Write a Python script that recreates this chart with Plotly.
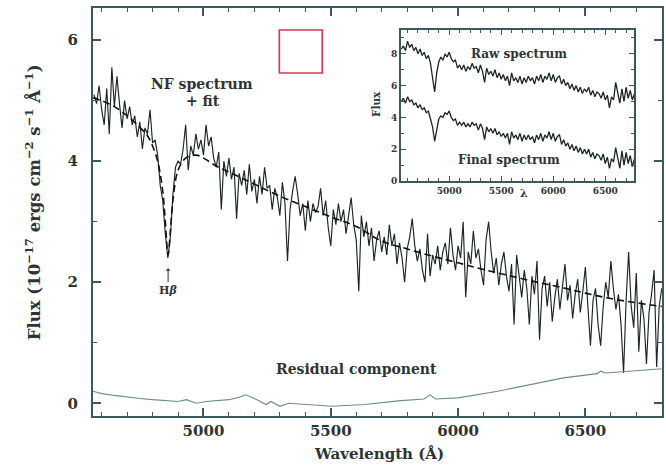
import plotly.graph_objects as go

# ---------------- data ----------------
# main NF spectrum, sampled every 10 A from 4570 A
wl_start, wl_step = 4570, 10
flux = [
    5.10, 4.95, 5.25, 4.85, 4.60, 5.20, 4.45, 5.55, 4.90, 5.40,
    4.95, 4.55, 5.00, 4.70, 4.90, 4.60, 4.75, 4.40, 4.65, 4.20,
    4.55, 4.45, 4.85, 4.30, 4.35, 4.10, 3.60, 3.35, 2.80, 2.40,
    2.75, 3.45, 3.90, 4.00, 3.95, 4.20, 4.60, 3.85, 4.25, 4.10,
    4.45, 4.20, 4.35, 4.10, 4.60, 4.25, 4.40, 4.05, 3.90, 4.15,
    3.20, 4.00, 3.75, 4.05, 3.70, 3.90, 3.05, 3.80, 3.60, 3.85,
    3.45, 3.95, 3.50, 3.70, 3.30, 3.75, 3.45, 3.90, 3.55, 3.60,
    3.20, 3.55, 3.40, 3.10, 3.65, 3.30, 2.35, 3.20, 3.50, 3.75,
    3.45, 3.10, 3.30, 2.85, 3.35, 3.00, 3.30, 3.15, 3.25, 3.55,
    3.10, 3.35, 2.90, 2.60, 3.20, 2.95, 3.30, 3.00, 3.20, 2.80,
    3.10, 3.40, 2.95, 2.70, 1.85, 3.10, 2.75, 3.00, 2.60, 2.90,
    2.35, 2.70, 2.85, 2.50, 2.75, 2.45, 2.95, 2.60, 2.80, 2.30,
    2.65, 2.40, 2.00, 2.55, 2.75, 3.05, 2.60, 2.35, 2.55, 2.20,
    2.00, 2.80, 2.10, 2.45, 2.30, 2.60, 2.20, 2.50, 2.65, 2.30,
    2.90, 2.45, 2.20, 2.60, 2.40, 3.00, 1.75, 2.50, 2.30, 2.85,
    2.40, 2.55, 2.20, 1.95, 2.70, 3.00, 2.50, 2.15, 2.40, 1.95,
    2.30, 2.50, 2.10, 1.85, 2.30, 1.30, 2.45, 2.05, 1.75, 2.20,
    1.90, 1.30, 2.10, 1.80, 2.35, 1.05, 1.90, 2.10, 1.60, 2.00,
    1.35, 1.75, 2.05, 1.55, 1.90, 2.30, 1.70, 1.95, 1.40, 1.80,
    2.05, 1.50, 1.85, 2.25, 1.60, 0.95, 1.70, 1.90, 1.30, 0.95,
    1.60, 2.00, 1.75, 2.35, 1.90, 1.55, 1.80, 1.30, 0.50, 1.70,
    2.50, 1.60, 1.25, 2.15, 0.85, 1.70, 1.40, 0.65, 1.50, 1.80,
    2.20, 0.60, 1.60, 1.90,
]
wl = [wl_start + i * wl_step for i in range(len(flux))]

# model fit (dashed)
fit_wl = [4566, 4600, 4650, 4700, 4750, 4780, 4800, 4820, 4840, 4850, 4861,
          4870, 4880, 4900, 4930, 4970, 5000, 5050, 5100, 5200, 5300, 5400,
          5500, 5600, 5700, 5800, 5900, 6000, 6100, 6200, 6300, 6400, 6500,
          6600, 6700, 6800]
fit_flux = [5.05, 5.00, 4.90, 4.75, 4.56, 4.42, 4.25, 4.00, 3.50, 3.00, 2.45,
            2.85, 3.35, 3.85, 4.05, 4.10, 4.05, 3.92, 3.82, 3.62, 3.42, 3.25,
            3.08, 2.92, 2.68, 2.55, 2.43, 2.32, 2.21, 2.11, 2.01, 1.92, 1.82,
            1.73, 1.66, 1.60]

# residual component
res_wl = [4566, 4600, 4650, 4700, 4750, 4800, 4855, 4900, 4933, 4972, 5010,
          5050, 5100, 5140, 5167, 5200, 5230, 5246, 5265, 5285, 5300, 5335,
          5400, 5450, 5503, 5633, 5765, 5866, 5890, 5912, 6000, 6156, 6285,
          6414, 6546, 6560, 6580, 6675, 6800]
res_flux = [0.20, 0.16, 0.13, 0.10, 0.08, 0.06, 0.04, 0.03, 0.06, 0.00, 0.03,
            0.04, 0.06, 0.10, 0.14, 0.08, 0.02, -0.02, 0.03, -0.01, -0.05, 0.00,
            -0.02, -0.03, -0.05, -0.02, 0.04, 0.07, 0.14, 0.07, 0.09, 0.20, 0.31,
            0.42, 0.49, 0.53, 0.50, 0.53, 0.57]

# inset spectra, sampled every 20 A from 4540 A
ins_start, ins_step = 4540, 20
raw_flux = [
    8.3, 8.5, 8.2, 8.8, 8.4, 8.6, 8.2, 8.4, 8.0, 8.3,
    7.9, 8.1, 7.7, 7.9, 7.4, 6.6, 5.6, 6.8, 7.5, 7.8,
    7.6, 8.0, 7.8, 8.1, 7.7, 7.5, 7.6, 7.1, 7.3, 7.0,
    7.3, 6.9, 7.2, 7.0, 7.4, 7.1, 7.2, 6.8, 7.3, 6.9,
    6.2, 7.1, 6.7, 6.9, 6.6, 7.0, 6.5, 6.8, 6.4, 6.7,
    6.3, 6.6, 6.0, 6.8, 6.3, 6.5, 6.2, 6.6, 6.1, 6.5,
    6.2, 6.6, 6.3, 6.5, 6.1, 6.6, 6.3, 6.7, 6.2, 6.6,
    6.4, 6.8, 6.3, 6.7, 6.2, 6.5, 6.6, 6.1, 6.4, 6.0,
    6.2, 5.8, 6.1, 5.7, 6.0, 5.6, 5.9, 5.5, 5.8, 5.6,
    5.9, 5.4, 5.7, 5.3, 5.6, 5.5, 5.2, 5.6, 5.1, 5.4,
    4.6, 5.3, 5.1, 6.2, 5.6, 4.9, 5.8, 5.0, 5.9, 5.2,
    5.7, 5.1, 5.5,
]
final_flux = [
    5.0, 5.2, 4.9, 5.3, 5.0, 5.1, 4.8, 4.9, 4.6, 4.8,
    4.5, 4.6, 4.3, 4.4, 3.9, 3.4, 2.5, 3.3, 3.9, 4.1,
    4.0, 4.3, 4.2, 4.4, 4.0, 3.8, 3.9, 3.5, 3.7, 3.5,
    3.7, 3.4, 3.6, 3.4, 3.7, 3.5, 3.6, 3.2, 3.6, 3.3,
    2.6, 3.4, 3.1, 3.3, 3.0, 3.3, 2.9, 3.1, 2.8, 3.0,
    2.7, 3.0, 2.3, 3.1, 2.7, 2.9, 2.6, 3.0, 2.5, 2.9,
    2.6, 2.9, 2.6, 2.8, 2.4, 2.9, 2.6, 3.0, 2.5, 2.9,
    2.7, 3.1, 2.6, 3.0, 2.5, 2.8, 2.9, 2.3, 2.6, 2.2,
    2.4, 2.0, 2.3, 1.9, 2.2, 1.8, 2.1, 1.7, 2.0, 1.7,
    2.0, 1.5, 1.8, 1.4, 1.7, 1.6, 1.3, 1.7, 1.1, 1.5,
    0.8, 1.4, 1.2, 2.1, 1.5, 0.8, 1.9, 1.0, 1.8, 1.1,
    1.6, 0.9, 1.4,
]
ins_wl = [ins_start + i * ins_step for i in range(len(raw_flux))]

# ---------------- styling ----------------
AX = "#3d5a5a"
TXT = "#2e3434"
FONT = "DejaVu Serif"
W, H = 666, 467
L, R, T, B = 93, 2, 8, 51


def px(x):
    return (x - L) / (W - L - R)


def py(y):
    return (H - B - y) / (H - B - T)


fig = go.Figure()
fig.add_trace(go.Scatter(x=wl, y=flux, mode="lines",
                         line=dict(color="#1c2626", width=1.15), showlegend=False))
fig.add_trace(go.Scatter(x=fit_wl, y=fit_flux, mode="lines", line_shape="spline",
                         line=dict(color="#111111", width=1.6, dash="7px,4px"),
                         showlegend=False))
fig.add_trace(go.Scatter(x=res_wl, y=res_flux, mode="lines",
                         line=dict(color="#6f8c8c", width=1.1), showlegend=False))
fig.add_trace(go.Scatter(x=ins_wl, y=raw_flux, mode="lines", xaxis="x2", yaxis="y2",
                         line=dict(color="#1c2626", width=1.3), showlegend=False))
fig.add_trace(go.Scatter(x=ins_wl, y=final_flux, mode="lines", xaxis="x2", yaxis="y2",
                         line=dict(color="#1c2626", width=1.3), showlegend=False))

main_ax = dict(showline=True, linecolor=AX, linewidth=2, mirror="allticks",
               ticks="inside", tickcolor=AX, tickwidth=1.5, ticklen=8,
               showgrid=False, zeroline=False,
               tickfont=dict(family=FONT, size=15, color=TXT, weight="bold"))
fig.update_layout(
    width=W, height=H,
    margin=dict(l=L, r=R, t=T, b=B),
    paper_bgcolor="white", plot_bgcolor="white",
    xaxis=dict(range=[4566, 6801], tick0=5000, dtick=500,
               minor=dict(dtick=100, tick0=5000, ticks="inside", ticklen=4,
                          tickcolor=AX, tickwidth=1.2),
               **main_ax),
    yaxis=dict(range=[-0.21, 6.53], tick0=0, dtick=2, ticklabelstandoff=10,
               minor=dict(dtick=1, tick0=0, ticks="inside", ticklen=4,
                          tickcolor=AX, tickwidth=1.2),
               **main_ax),
    xaxis2=dict(domain=[px(402), px(636)], anchor="y2", range=[4536, 6777],
                tick0=5000, dtick=500, showline=True, linecolor=AX, linewidth=1.6,
                mirror="allticks", ticks="inside", tickcolor=AX, ticklen=5,
                tickwidth=1.2, showgrid=False, zeroline=False,
                minor=dict(dtick=100, tick0=5000, ticks="inside", ticklen=3,
                           tickcolor=AX, tickwidth=1),
                tickfont=dict(family=FONT, size=9, color=TXT, weight="bold")),
    yaxis2=dict(domain=[py(181), py(30)], anchor="x2", range=[0, 9.5],
                tick0=0, dtick=2, showline=True, linecolor=AX, linewidth=1.6,
                mirror="allticks", ticks="inside", tickcolor=AX, ticklen=5,
                tickwidth=1.2, showgrid=False, zeroline=False,
                minor=dict(dtick=1, tick0=0, ticks="inside", ticklen=3,
                           tickcolor=AX, tickwidth=1),
                tickfont=dict(family=FONT, size=9, color=TXT, weight="bold")),
)


def note(text, x, y, size, angle=0):
    fig.add_annotation(text=text, x=px(x), y=py(y), xref="paper", yref="paper",
                       showarrow=False, xanchor="center", yanchor="middle",
                       textangle=angle,
                       font=dict(family=FONT, size=size, color=TXT, weight="bold"))


note("Flux (10<sup>\u221217</sup> ergs cm<sup>\u22122</sup> s<sup>\u22121</sup> \u00c5<sup>\u22121</sup>)",
     33, 202, 16.5, -90)
note("Wavelength (\u00c5)", 380, 454, 15)
note("NF spectrum", 202, 84, 14)
note("+ fit", 203, 101, 14)
note("Residual component", 357, 369, 14)
note("Raw spectrum", 520, 54, 12)
note("Final spectrum", 510, 160, 12)
note("Flux", 377, 104, 10.5, -90)
note("\u03bb", 526, 193, 11)

fig.add_annotation(text="H<i>\u03b2</i>", x=4861, y=2.23, xref="x", yref="y",
                   showarrow=True, ax=0, ay=22, arrowhead=1, arrowsize=0.8,
                   arrowwidth=1, arrowcolor=TXT,
                   font=dict(family=FONT, size=11, color=TXT, weight="bold"))

fig.add_shape(type="rect", xref="paper", yref="paper",
              x0=px(280), x1=px(323), y0=py(73), y1=py(30),
              line=dict(color="#d23a55", width=1.6))

fig.write_html("out.html")
